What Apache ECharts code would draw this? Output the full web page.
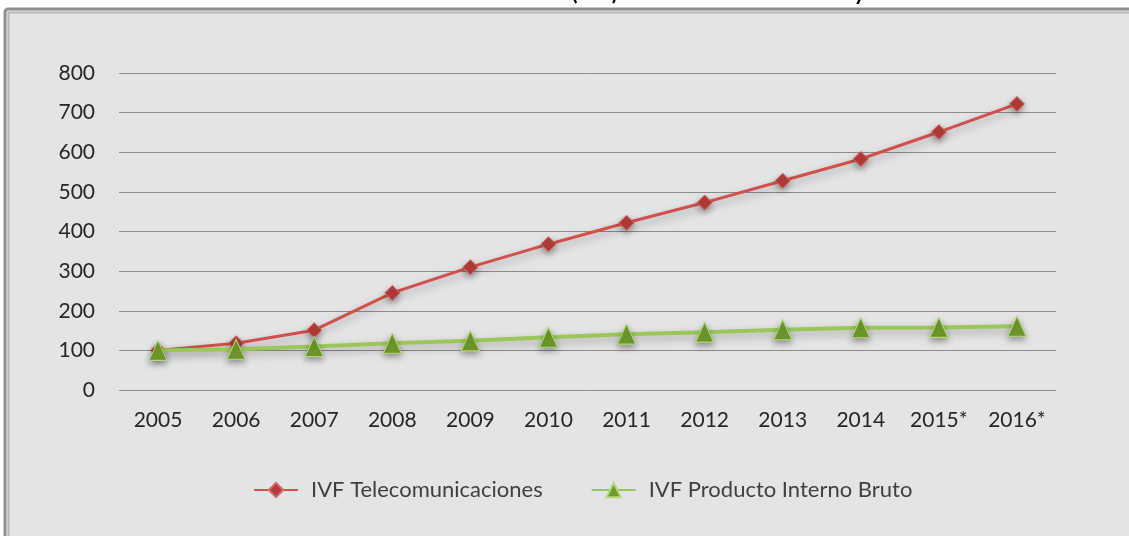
<!DOCTYPE html>
<html>
<head>
<meta charset="utf-8">
<script src="https://cdn.jsdelivr.net/npm/echarts@6/dist/echarts.min.js"></script>
<style>
  html, body { margin: 0; padding: 0; background: #ffffff; }
  #chart { width: 1129px; height: 536px; }
</style>
</head>
<body>
<div id="chart"></div>
<script>
const categories = ['2005','2006','2007','2008','2009','2010','2011','2012','2013','2014','2015*','2016*'];
const ivfTelecom = [100, 118, 151, 245, 310, 368, 422, 473, 528, 583, 651, 722];
const ivfPib = [100, 103, 110, 118, 124, 133, 141, 146, 152, 157, 158, 161];
const seriesNames = ['IVF Telecomunicaciones', 'IVF Producto Interno Bruto'];
const titleText = 'Evolución del Índice de Volumen Físico (IVF) de Telecomunicaciones y del PIB';

const FONT = 'Lato, "Open Sans", sans-serif';
const chart = echarts.init(document.getElementById('chart'));
chart.setOption({
  animation: false,
  backgroundColor: '#ffffff',
  graphic: [
    { type: 'rect', z: -10, shape: { x: 5, y: 9, width: 1140, height: 540, r: 3 },
      style: { fill: '#e4e4e4', stroke: '#8f8f8f', lineWidth: 3 } },
    { type: 'rect', z: -9, shape: { x: 8.5, y: 12.5, width: 1140, height: 540 },
      style: { fill: 'none', stroke: '#b8b8b8', lineWidth: 2 } }
  ],
  title: {
    text: titleText,
    left: 'center',
    top: -23,
    textStyle: { fontFamily: FONT, fontSize: 22, fontWeight: 'bold', color: '#000000' }
  },
  grid: { left: 119, right: 73, top: 73, bottom: 146, containLabel: false },
  legend: {
    data: seriesNames,
    top: 474,
    left: 248,
    itemWidth: 44,
    itemHeight: 18,
    itemGap: 48,
    textStyle: { fontFamily: FONT, fontSize: 22, color: '#404040', padding: [0, 0, 0, 8] }
  },
  xAxis: {
    type: 'category',
    data: categories,
    boundaryGap: true,
    axisLine: { show: false },
    axisTick: { show: false },
    axisLabel: { fontFamily: FONT, fontSize: 21, color: '#262626', margin: 20 }
  },
  yAxis: {
    type: 'value',
    min: 0,
    max: 800,
    interval: 100,
    axisLine: { show: false },
    axisTick: { show: false },
    axisLabel: { fontFamily: FONT, fontSize: 21, color: '#262626', margin: 24 },
    splitLine: { lineStyle: { color: '#8c8c8c', width: 1 } }
  },
  series: [
    {
      name: seriesNames[0],
      type: 'line',
      data: ivfTelecom,
      symbol: 'diamond',
      symbolSize: 15,
      itemStyle: { color: '#b23c39', borderColor: '#d46a66', borderWidth: 1,
        shadowColor: 'rgba(0,0,0,0.35)', shadowBlur: 6, shadowOffsetY: 3 },
      lineStyle: { color: '#d0504c', width: 3,
        shadowColor: 'rgba(0,0,0,0.3)', shadowBlur: 8, shadowOffsetY: 4 },
      z: 3
    },
    {
      name: seriesNames[1],
      type: 'line',
      data: ivfPib,
      symbol: 'triangle',
      symbolSize: [18, 20],
      itemStyle: { color: '#6f9a2c', borderColor: '#b5d97a', borderWidth: 1,
        shadowColor: 'rgba(0,0,0,0.35)', shadowBlur: 6, shadowOffsetY: 3 },
      lineStyle: { color: '#9bc75a', width: 4,
        shadowColor: 'rgba(0,0,0,0.3)', shadowBlur: 8, shadowOffsetY: 4 },
      z: 4
    }
  ]
});
</script>
</body>
</html>
